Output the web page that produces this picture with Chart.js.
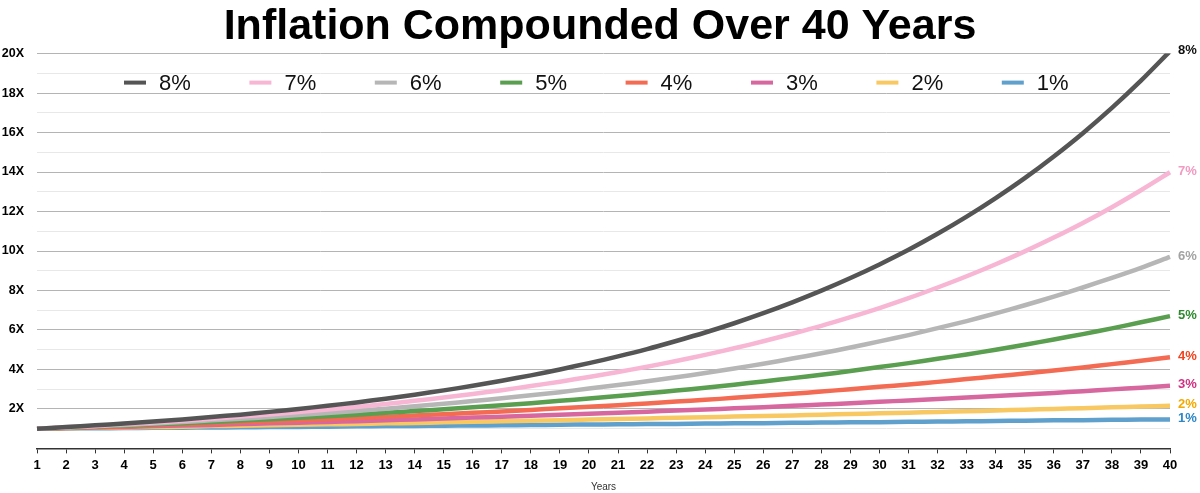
<!DOCTYPE html>
<html>
<head>
<meta charset="utf-8">
<script src="https://cdn.jsdelivr.net/npm/chart.js@4"></script>
<style>
  html, body { margin: 0; padding: 0; background: #fff; }
  #wrap { width: 1200px; height: 493px; }
</style>
</head>
<body>
<div id="wrap"><canvas id="chart"></canvas></div>
<script>
// Years on the x axis
const years = [1,2,3,4,5,6,7,8,9,10,11,12,13,14,15,16,17,18,19,20,
               21,22,23,24,25,26,27,28,29,30,31,32,33,34,35,36,37,38,39,40];

// Growth multiple for each inflation rate
const rate8 = [1.00,1.08,1.17,1.26,1.36,1.47,1.59,1.71,1.85,2.00,2.16,2.33,2.52,2.72,2.94,3.17,3.43,3.70,4.00,4.32,
               4.66,5.03,5.44,5.87,6.34,6.85,7.40,7.99,8.63,9.32,10.06,10.87,11.74,12.68,13.69,14.79,15.97,17.25,18.63,20.12];
const rate7 = [1.00,1.07,1.14,1.23,1.31,1.40,1.50,1.61,1.72,1.84,1.97,2.10,2.25,2.41,2.58,2.76,2.95,3.16,3.38,3.62,
               3.87,4.14,4.43,4.74,5.07,5.43,5.81,6.21,6.65,7.11,7.61,8.15,8.72,9.33,9.98,10.68,11.42,12.22,13.08,13.99];
const rate6 = [1.00,1.06,1.12,1.19,1.26,1.34,1.42,1.50,1.59,1.69,1.79,1.90,2.01,2.13,2.26,2.40,2.54,2.69,2.85,3.03,
               3.21,3.40,3.60,3.82,4.05,4.29,4.55,4.82,5.11,5.42,5.74,6.09,6.45,6.84,7.25,7.69,8.15,8.64,9.15,9.70];
const rate5 = [1.00,1.05,1.10,1.16,1.22,1.28,1.34,1.41,1.48,1.55,1.63,1.71,1.80,1.89,1.98,2.08,2.18,2.29,2.41,2.53,
               2.65,2.79,2.93,3.07,3.23,3.39,3.56,3.73,3.92,4.12,4.32,4.54,4.76,5.00,5.25,5.52,5.79,6.08,6.39,6.70];
const rate4 = [1.00,1.04,1.08,1.12,1.17,1.22,1.27,1.32,1.37,1.42,1.48,1.54,1.60,1.67,1.73,1.80,1.87,1.95,2.03,2.11,
               2.19,2.28,2.37,2.46,2.56,2.67,2.77,2.88,3.00,3.12,3.24,3.37,3.51,3.65,3.79,3.95,4.10,4.27,4.44,4.62];
const rate3 = [1.00,1.03,1.06,1.09,1.13,1.16,1.19,1.23,1.27,1.30,1.34,1.38,1.43,1.47,1.51,1.56,1.60,1.65,1.70,1.75,
               1.81,1.86,1.92,1.97,2.03,2.09,2.16,2.22,2.29,2.36,2.43,2.50,2.58,2.65,2.73,2.81,2.90,2.99,3.07,3.17];
const rate2 = [1.00,1.02,1.04,1.06,1.08,1.10,1.13,1.15,1.17,1.20,1.22,1.24,1.27,1.29,1.32,1.35,1.37,1.40,1.43,1.46,
               1.49,1.52,1.55,1.58,1.61,1.64,1.67,1.71,1.74,1.78,1.81,1.85,1.88,1.92,1.96,2.00,2.04,2.08,2.12,2.16];
const rate1 = [1.00,1.01,1.02,1.03,1.04,1.05,1.06,1.07,1.08,1.09,1.10,1.12,1.13,1.14,1.15,1.16,1.17,1.18,1.20,1.21,
               1.22,1.23,1.24,1.26,1.27,1.28,1.30,1.31,1.32,1.33,1.35,1.36,1.37,1.39,1.40,1.42,1.43,1.45,1.46,1.47];

const seriesNames = ['8%', '7%', '6%', '5%', '4%', '3%', '2%', '1%'];
const seriesData = [rate8, rate7, rate6, rate5, rate4, rate3, rate2, rate1];
const lineColors = ['#555555', '#f7b6d4', '#b6b6b6', '#5a9e50', '#f26b52', '#d7679f', '#f8c862', '#5fa0cc'];
const labelColors = ['#111111', '#f39ac2', '#a3a3a3', '#2f8a2f', '#f0431f', '#d03283', '#f4a900', '#2d87c8'];

const yMin = 0;
const yMax = 20;

const FONT = '"Liberation Sans", Arial, Helvetica, sans-serif';

// Legend drawn inside the top of the plot, plus the end-of-line labels
const overlayPlugin = {
    id: 'overlay',
    afterDatasetsDraw(chart) {
        const ctx = chart.ctx;
        const area = chart.chartArea;
        ctx.save();

        // legend
        ctx.font = '22px ' + FONT;
        ctx.textBaseline = 'middle';
        ctx.textAlign = 'left';
        const legendY = area.top + 29;
        let x = area.left + 87;
        seriesNames.forEach((name, i) => {
            ctx.fillStyle = lineColors[i];
            ctx.fillRect(x, legendY - 2, 22, 4);
            ctx.fillStyle = '#111';
            ctx.fillText(name, x + 35, legendY + 1);
            x += 125.4;
        });

        // end labels
        ctx.font = 'bold 13px ' + FONT;
        seriesNames.forEach((name, i) => {
            const meta = chart.getDatasetMeta(i);
            const last = meta.data[meta.data.length - 1];
            ctx.fillStyle = labelColors[i];
            ctx.fillText(name, last.x + 8, last.y - 1);
        });
        ctx.restore();
    }
};

document.addEventListener('DOMContentLoaded', function() {
    const ctx = document.getElementById('chart').getContext('2d');

    new Chart(ctx, {
        type: 'line',
        data: {
            labels: years,
            datasets: seriesNames.map((name, i) => ({
                label: name,
                data: seriesData[i],
                borderColor: lineColors[i],
                backgroundColor: lineColors[i],
                borderWidth: 4.5,
                pointRadius: 0,
                tension: 0.3,
                fill: false
            }))
        },
        options: {
            responsive: true,
            maintainAspectRatio: false,
            animation: false,
            layout: {
                padding: { left: 0, right: 0, top: 0, bottom: 0 }
            },
            plugins: {
                legend: { display: false },
                tooltip: { enabled: false },
                title: {
                    display: true,
                    text: 'Inflation Compounded Over 40 Years',
                    color: '#000',
                    font: { family: FONT, size: 43, weight: 'bold' },
                    padding: { top: 1, bottom: 1 }
                }
            },
            scales: {
                x: {
                    offset: false,
                    border: { display: true, color: '#333', width: 1.5 },
                    grid: {
                        drawOnChartArea: false,
                        drawTicks: true,
                        tickLength: 5,
                        color: '#333'
                    },
                    ticks: {
                        color: '#000',
                        font: { family: FONT, size: 13, weight: 'bold' },
                        maxRotation: 0,
                        autoSkip: false,
                        padding: 4
                    },
                    title: {
                        display: true,
                        text: 'Years',
                        color: '#333',
                        font: { family: FONT, size: 10 },
                        padding: { top: 4, bottom: 0 }
                    }
                },
                y: {
                    min: yMin,
                    max: yMax,
                    border: { display: false },
                    afterFit: function(scale) {
                        scale.width = 37;
                    },
                    grid: {
                        drawTicks: false,
                        color: function(c) {
                            const v = c.tick.value;
                            if (v === 0) return 'rgba(0,0,0,0)';
                            return v % 2 === 0 ? '#b4b4b4' : '#e8e8e8';
                        },
                        lineWidth: 1
                    },
                    ticks: {
                        stepSize: 1,
                        autoSkip: false,
                        padding: 13,
                        color: '#000',
                        font: { family: FONT, size: 12.5, weight: 'bold' },
                        callback: function(value) {
                            return (value > 0 && value % 2 === 0) ? value + 'X' : '';
                        }
                    }
                },
                // empty axis on the right, leaves room for the end labels
                yRight: {
                    position: 'right',
                    min: yMin,
                    max: yMax,
                    border: { display: false },
                    grid: { display: false, drawTicks: false },
                    ticks: { display: false },
                    afterFit: function(scale) {
                        scale.width = 30;
                    }
                }
            }
        },
        plugins: [overlayPlugin]
    });
});
</script>
</body>
</html>
